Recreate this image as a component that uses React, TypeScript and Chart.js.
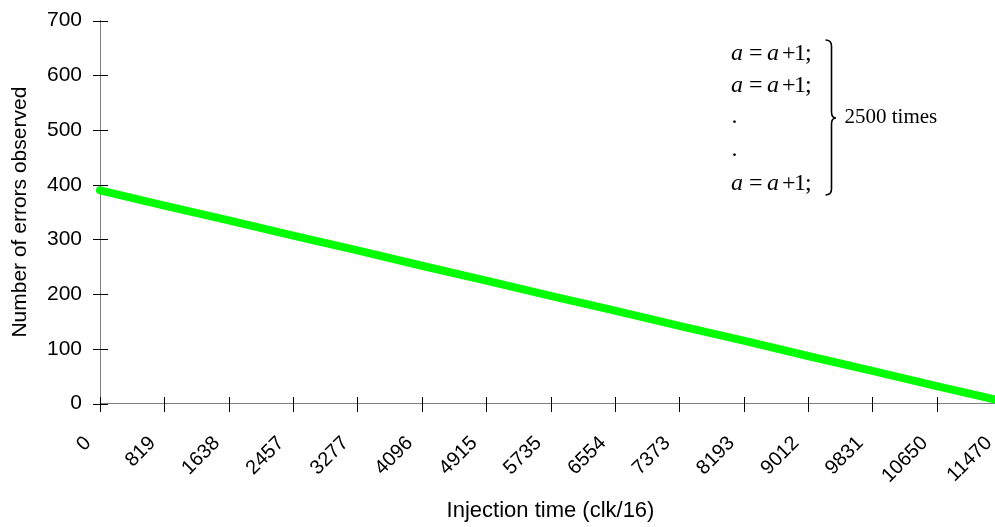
import React, { useEffect, useRef } from "react";
import { Chart, registerables } from "chart.js";

Chart.register(...registerables);

// ---- data ----
const xLabels = [
  "0", "819", "1638", "2457", "3277", "4096", "4915", "5735",
  "6554", "7373", "8193", "9012", "9831", "10650", "11470",
];
const errorsObserved = [390, 362, 335, 307, 280, 252, 225, 197, 170, 142, 115, 87, 60, 32, 5];
const yMin = 0;
const yMax = 700;
const yStep = 100;
const xTitle = "Injection time (clk/16)";
const yTitle = "Number of errors observed";
const noteTimes = "2500 times";

const SANS = "'Liberation Sans', Arial, sans-serif";
const SERIF = "'Liberation Serif', 'Times New Roman', serif";

const tickMarksPlugin = {
  id: "crossTicks",
  beforeDatasetsDraw(chart: any) {
    const { ctx } = chart;
    const xs = chart.scales.x;
    const ys = chart.scales.y;
    ctx.save();
    ctx.strokeStyle = "#000000";
    ctx.lineWidth = 1;
    ctx.beginPath();
    const axisY = Math.round(ys.getPixelForValue(0));
    const axisX = Math.round(xs.left);
    ys.ticks.forEach((_t: any, i: number) => {
      const py = Math.round(ys.getPixelForTick(i)) + 0.5;
      ctx.moveTo(axisX - 7, py);
      ctx.lineTo(axisX + 8, py);
    });
    xs.ticks.forEach((_t: any, i: number) => {
      const px = Math.round(xs.getPixelForTick(i)) + 0.5;
      ctx.moveTo(px, axisY - 7);
      ctx.lineTo(px, axisY + 8);
    });
    ctx.stroke();
    ctx.restore();
  },
};

const notePlugin = {
  id: "note",
  afterDraw(chart: any) {
    const { ctx } = chart;
    ctx.save();
    ctx.fillStyle = "#000000";
    ctx.textBaseline = "alphabetic";
    ctx.textAlign = "left";
    const pieces: [string, boolean, number][] = [
      ["a", true, 731],
      ["=", false, 749],
      ["a", true, 767],
      ["+", false, 782],
      ["1", false, 794],
      [";", false, 805],
    ];
    const drawEq = (base: number) => {
      pieces.forEach(([t, it, x]) => {
        ctx.font = (it ? "italic " : "") + "24px " + SERIF;
        ctx.fillText(t, x, base);
      });
    };
    drawEq(60);
    drawEq(92);
    drawEq(190);
    ctx.font = "24px " + SERIF;
    ctx.fillText(".", 731.5, 123);
    ctx.fillText(".", 731.5, 156);
    ctx.font = "21px " + SERIF;
    ctx.fillText(noteTimes, 844.5, 123);
    // right curly brace
    ctx.strokeStyle = "#000000";
    ctx.lineWidth = 1.6;
    ctx.beginPath();
    ctx.moveTo(825.5, 40);
    ctx.quadraticCurveTo(831.5, 40, 831.5, 46);
    ctx.lineTo(831.5, 112);
    ctx.quadraticCurveTo(831.5, 118, 836, 118);
    ctx.quadraticCurveTo(831.5, 118, 831.5, 124);
    ctx.lineTo(831.5, 189);
    ctx.quadraticCurveTo(831.5, 195, 825.5, 195);
    ctx.stroke();
    ctx.restore();
  },
};

export default function App() {
  const ref = useRef<HTMLCanvasElement | null>(null);

  useEffect(() => {
    if (!ref.current) return;
    const chart = new Chart(ref.current, {
      type: "line",
      data: {
        labels: xLabels,
        datasets: [
          {
            data: errorsObserved,
            borderColor: "#00ff00",
            backgroundColor: "#00ff00",
            borderWidth: 8,
            borderCapStyle: "round",
            pointRadius: 0,
            tension: 0,
            fill: false,
          },
        ],
      },
      options: {
        animation: false,
        responsive: false,
        devicePixelRatio: 1,
        layout: { padding: { top: 20.7, left: 0, right: 0, bottom: 0 } },
        plugins: {
          legend: { display: false },
          tooltip: { enabled: false },
        },
        scales: {
          x: {
            type: "category",
            offset: false,
            grid: { display: false, drawTicks: false },
            border: { display: true, color: "#808080", width: 1 },
            ticks: {
              autoSkip: false,
              minRotation: 45,
              maxRotation: 45,
              padding: 28,
              labelOffset: -12,
              color: "#000000",
              font: { family: SANS, size: 20 },
            },
            title: {
              display: true,
              text: xTitle,
              color: "#000000",
              font: { family: SANS, size: 22 },
              padding: { top: 0, bottom: 3 },
            },
            afterFit(scale: any) {
              scale.height = 123.4;
              scale.paddingLeft = 0;
              scale.paddingRight = 0;
            },
          },
          y: {
            type: "linear",
            min: yMin,
            max: yMax,
            grid: { display: false, drawTicks: false },
            border: { display: true, color: "#808080", width: 1 },
            ticks: {
              stepSize: yStep,
              padding: 18,
              color: "#000000",
              font: { family: SANS, size: 21 },
            },
            title: {
              display: true,
              text: yTitle,
              color: "#000000",
              font: { family: SANS, size: 21 },
              padding: { top: 8, bottom: 0 },
            },
            afterFit(scale: any) {
              scale.width = 100;
              scale.paddingTop = 0;
              scale.paddingBottom = 0;
            },
          },
        },
      },
      plugins: [tickMarksPlugin, notePlugin],
    });
    return () => chart.destroy();
  }, []);

  return (
    <div
      style={{
        position: "fixed",
        left: 0,
        top: 0,
        width: 995,
        height: 527,
        overflow: "hidden",
        background: "#ffffff",
      }}
    >
      <canvas
        ref={ref}
        width={1001}
        height={527}
        style={{ display: "block", width: "1001px", height: "527px" }}
      />
    </div>
  );
}
